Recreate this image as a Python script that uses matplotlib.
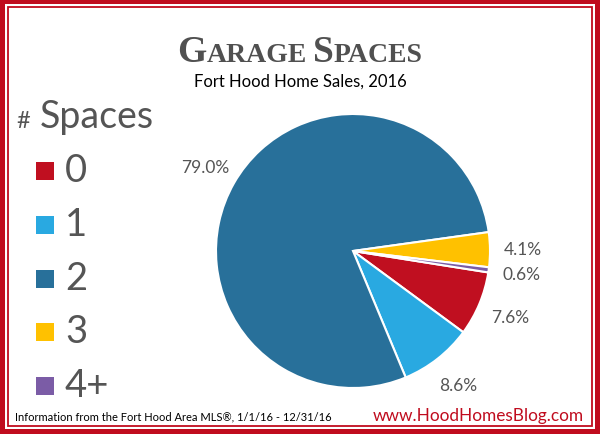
import matplotlib
matplotlib.use("Agg")
import matplotlib.pyplot as plt
from matplotlib.patches import Rectangle

# data
categories = ["0", "1", "2", "3", "4+"]
shares = [7.6, 8.6, 79.0, 4.1, 0.6]
colors = ["#C00F20", "#29A9E1", "#28709A", "#FFC100", "#7B5CA6"]

title_parts = [("G", 27), ("ARAGE", 20), (" ", 18), ("S", 27), ("PACES", 20)]
subtitle = "Fort Hood Home Sales, 2016"
legend_title = "Spaces"
footer = "Information from the Fort Hood Area MLS\u00ae, 1/1/16 - 12/31/16"
website = "www.HoodHomesBlog.com"

W, H = 600, 435
red = "#C00C1E"
gray = "#555555"

fig = plt.figure(figsize=(W / 100, H / 100), dpi=100)
fig.patch.set_facecolor("white")


def px(x, y):
    # pixel coords (top-left origin) -> figure fraction
    return x / W, 1 - y / H


# border: thick red frame, white gap, thin red line
fig.patches.append(Rectangle((0, 0), 1, 1, transform=fig.transFigure,
                             facecolor="none", edgecolor=red, linewidth=7.2))
fig.patches.append(Rectangle((8 / W, 8 / H), 1 - 16 / W, 1 - 16 / H,
                             transform=fig.transFigure, facecolor="none",
                             edgecolor=red, linewidth=1.3))

# title with big first letters
renderer = fig.canvas.get_renderer()
pieces = []
for txt, size in title_parts:
    t = fig.text(0, 0, txt, fontsize=size, family="Liberation Serif",
                 weight="bold", color="#505050", va="baseline")
    pieces.append(t)
widths = [p.get_window_extent(renderer).width for p in pieces]
x0 = (W - sum(widths)) / 2
for p, w in zip(pieces, widths):
    p.set_position(px(x0, 62))
    x0 += w

fig.text(*px(300, 87), subtitle, fontsize=12, family="Lato", color="black",
         ha="center", va="baseline")

# legend drawn by hand
fig.text(*px(16, 128), "#", fontsize=17, family="Lato", color=gray,
         va="baseline")
fig.text(*px(40, 128), legend_title, fontsize=27, family="Lato",
         color=gray, va="baseline")
for i, (cat, col) in enumerate(zip(categories, colors)):
    yc = 172 + i * 53.8
    fig.patches.append(Rectangle(px(36, yc + 9), 18 / W, 18 / H,
                                 transform=fig.transFigure, facecolor=col,
                                 edgecolor="none"))
    fig.text(*px(65, yc + 10), cat, fontsize=27.5, family="Lato",
             color=gray, va="baseline")

# pie
R = 137
cx, cy = 353, 252
ax = fig.add_axes([(cx - R) / W, (H - cy - R) / H, 2 * R / W, 2 * R / H])
total = sum(shares)
ax.pie(shares, colors=colors, startangle=-9, counterclock=False,
       autopct=lambda p: f"{p * total / 100:.1f}%", pctdistance=1.24,
       wedgeprops=dict(edgecolor="white", linewidth=1.5),
       textprops=dict(fontsize=12.5, family="Lato", color=gray))
ax.set_xlim(-1, 1)
ax.set_ylim(-1, 1)
ax.axis("off")

fig.text(*px(15, 420), footer, fontsize=8, family="Lato", color="black",
         va="baseline")
fig.text(*px(584, 421), website, fontsize=12.4, family="Lato", color=red,
         ha="right", va="baseline")

fig.savefig("out.png", dpi=100)
